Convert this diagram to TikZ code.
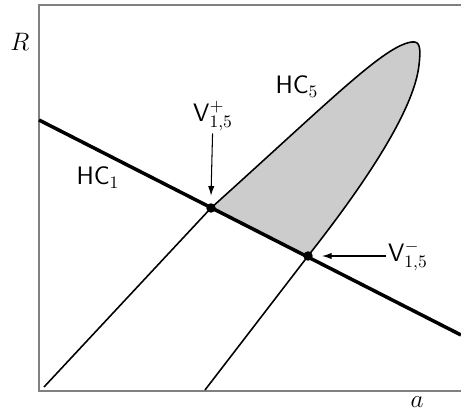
\documentclass[tikz,border=0pt]{standalone}
\usepackage{amsmath,amssymb}
\usetikzlibrary{positioning, arrows.meta, calc}

\begin{document}
\begin{tikzpicture}[x=0.571pt, y=-0.571pt]

        % Styles
        \tikzstyle{dot} = [circle, fill=black, inner sep=0pt, minimum size=5.4pt]
        \tikzstyle{curve} = [line width=0.9pt]
        \tikzstyle{pointer} = [-{Latex[length=5.5pt, width=3.6pt]}, line width=0.6pt]
        \tikzstyle{lbl} = [inner sep=1pt, font=\Large]

        \useasboundingbox (0,0) rectangle (461,415);

        % Frame and axis labels
        \draw[gray, line width=0.6pt] (461,5) -- (39,5) -- (39,391) -- (461,391);
        \node[lbl] (rlabel) at (20,42) {$R$};
        \node[lbl] (alabel) at (417,402) {$a$};

        % Points
        \coordinate (vplus) at (211,208);
        \coordinate (vminus) at (308,256);
        \coordinate (hcone a) at (39,120);
        \coordinate (hcone b) at (461,335);
        \coordinate (hcfive a) at (44,387);
        \coordinate (hcfive b) at (205,390);

        % Shaded region
        \fill[black!20] (vplus) .. controls (331,100) and (385,45) .. (412,42)
            .. controls (420,41) and (421,48) .. (419,65)
            .. controls (414,112) and (360,190) .. (vminus) -- cycle;

        % HC_5
        \draw[curve] (hcfive a) -- (vplus) .. controls (331,100) and (385,45) .. (412,42)
            .. controls (420,41) and (421,48) .. (419,65)
            .. controls (414,112) and (360,190) .. (vminus) -- (hcfive b);

        % HC_1
        \draw[line width=2pt] (hcone a) -- (hcone b);

        % Vertices
        \node[dot] (vplusdot) at (vplus) {};
        \node[dot] (vminusdot) at (vminus) {};

        % Labels
        \node[lbl] (hcfive) at (297,87) {$\mathsf{HC}_5$};
        \node[lbl] (hcone) at (98,178) {$\mathsf{HC}_1$};
        \node[lbl] (vpluslabel) at (213,116) {$\mathsf{V}^{+}_{1,5}$};
        \node[lbl, anchor=west] (vminuslabel) at (386,256) {$\mathsf{V}^{-}_{1,5}$};

        % Arrows
        \draw[pointer] (vpluslabel) -- ([yshift=7pt]vplusdot.center);
        \draw[pointer] (vminuslabel) -- ([xshift=8pt]vminusdot.center);

\end{tikzpicture}
\end{document}
